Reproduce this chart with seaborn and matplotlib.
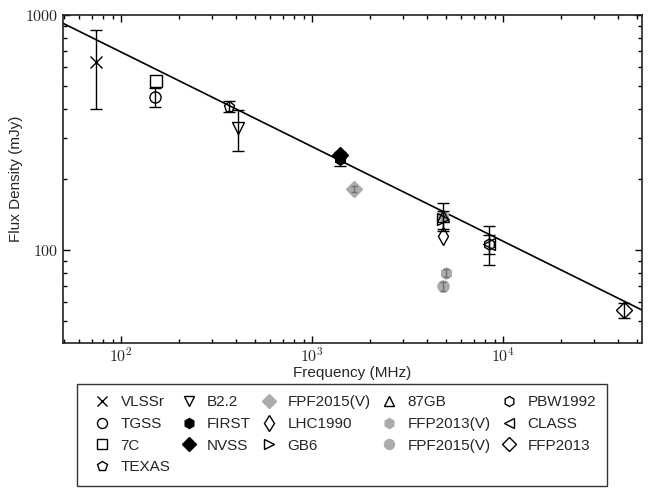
import numpy as np
import pandas as pd
import matplotlib
matplotlib.use("Agg")
import matplotlib.pyplot as plt
import seaborn as sns
from matplotlib.ticker import LogLocator, FixedLocator, FixedFormatter, NullFormatter

# ---------------- data ----------------
surveys = ["VLSSr", "TGSS", "7C", "TEXAS", "B2.2", "FIRST", "NVSS",
           "FPF2015(V)", "LHC1990", "GB6", "87GB", "FFP2013(V)",
           "FPF2015(V)", "PBW1992", "CLASS", "FFP2013"]
freq_mhz = [[74], [150], [151], [365], [408], [1400], [1400],
            [1650], [4850], [4850], [4850], [4850, 4980],
            [4850], [8400], [8460], [43000]]
flux_mjy = [[632], [449], [524], [407], [330], [243], [254],
            [182], [115], [135], [139], [139, 80],
            [70], [106], [106], [55.5]]
flux_err = [[235], [42], [0], [22], [66], [15], [8],
            [6], [0], [12], [19], [0, 3],
            [3], [20], [10], [4]]
markers = ["x", "o", "s", "p", "v", "h", "D",
           "D", "d", ">", "^", "h",
           "o", "h", "<", "D"]
kinds = ["open", "open", "open", "open", "open", "black", "black",
         "gray", "open", "open", "open", "gray",
         "gray", "open", "open", "open"]

# power-law fit line (end points)
line_freq = [49.5, 53000]
line_flux = [922, 55.6]

x_ticks = [1e2, 1e3, 1e4]
x_ticklabels = [r"$10^2$", r"$10^3$", r"$10^4$"]
y_ticks = [100, 1000]
y_ticklabels = [r"$100$", r"$1000$"]

# ---------------- style ----------------
sns.set_style("ticks")
plt.rcParams["font.family"] = ["Liberation Sans", "DejaVu Sans"]
plt.rcParams["mathtext.fontset"] = "cm"

fig = plt.figure(figsize=(6.53, 4.91), dpi=100)
ax = fig.add_axes([63 / 653, 1 - 343 / 491, (641.7 - 63) / 653, (343 - 15) / 491])

GRAY = "#ababab"
GRAY_ERR = "#707070"

line_df = pd.DataFrame({"freq": line_freq, "flux": line_flux})
sns.lineplot(data=line_df, x="freq", y="flux", ax=ax, color="black",
             lw=1.2, zorder=2, legend=False)

ax.set_xscale("log")
ax.set_yscale("log")

hmap = {}
for i in range(len(surveys)):
    k = kinds[i]
    m = markers[i]
    if k == "gray":
        fc, ec, ecol, zm, ze, cs = GRAY, GRAY, GRAY_ERR, 3, 3.5, 2.5
    elif k == "black":
        fc, ec, ecol, zm, ze, cs = "black", "black", "black", 5, 5, 4
    else:
        fc, ec, ecol, zm, ze, cs = "none", "black", "black", 4, 4, 4
    fx = np.array(freq_mhz[i], float)
    fy = np.array(flux_mjy[i], float)
    fe = np.array(flux_err[i], float)
    msk = fe > 0
    if msk.any():
        ax.errorbar(fx[msk], fy[msk], yerr=fe[msk], fmt="none", ecolor=ecol,
                    elinewidth=1.0, capsize=cs, capthick=1.0, zorder=ze)
    ms = 9 if m == "d" else 8
    h, = ax.plot(fx, fy, linestyle="none", marker=m, markersize=ms,
                 markerfacecolor=fc, markeredgecolor=ec, markeredgewidth=1.0,
                 zorder=zm, label=surveys[i])
    hmap[i] = h
handles = [hmap[i] for i in range(len(surveys))]

ax.set_xlim(49.5, 53000)
ax.set_ylim(40.2, 1000)

ax.xaxis.set_major_locator(FixedLocator(x_ticks))
ax.xaxis.set_major_formatter(FixedFormatter(x_ticklabels))
ax.xaxis.set_minor_locator(LogLocator(base=10, subs=np.arange(2, 10), numticks=20))
ax.xaxis.set_minor_formatter(NullFormatter())
ax.yaxis.set_major_locator(FixedLocator(y_ticks))
ax.yaxis.set_major_formatter(FixedFormatter(y_ticklabels))
ax.yaxis.set_minor_locator(LogLocator(base=10, subs=np.arange(2, 10), numticks=20))
ax.yaxis.set_minor_formatter(NullFormatter())

ax.tick_params(which="both", direction="in", top=True, right=True,
               color="black", width=1.0)
ax.tick_params(which="major", length=5, labelsize=11.5)
ax.tick_params(axis="x", which="major", pad=2.5)
ax.tick_params(axis="y", which="major", pad=3)
ax.tick_params(which="minor", length=3)
for s in ax.spines.values():
    s.set_color("#222222")
    s.set_linewidth(1.2)

ax.set_xlabel("Frequency (MHz)", fontsize=11, labelpad=0.5)
ax.set_ylabel("Flux Density (mJy)", fontsize=11, labelpad=1.5)

leg = fig.legend(handles=handles, labels=surveys,
                 loc="upper left", bbox_to_anchor=(77 / 653, 1 - 384 / 491),
                 bbox_transform=fig.transFigure, ncol=5, fontsize=11,
                 frameon=True, fancybox=False, edgecolor="black",
                 borderpad=0.75, handlelength=1.8, handletextpad=0.3,
                 columnspacing=0.3, labelspacing=0.5, markerscale=0.9,
                 borderaxespad=0)
leg.get_frame().set_linewidth(1.0)
leg.get_frame().set_facecolor("white")

fig.savefig("out.png", dpi=100)
